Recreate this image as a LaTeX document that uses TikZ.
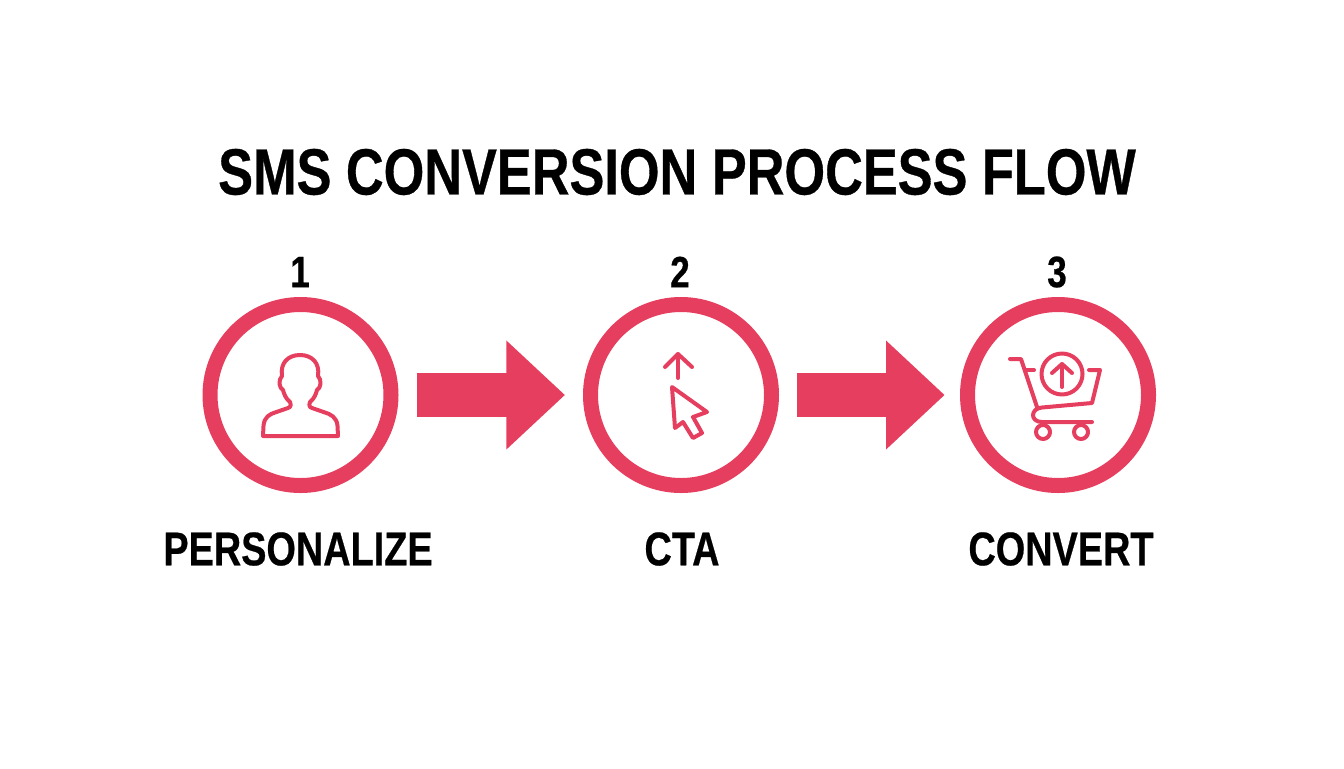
\documentclass[tikz,border=0pt]{standalone}
\usepackage{fontspec}
\setmainfont[FakeStretch=0.8,BoldFeatures={FakeBold=0.5}]{Liberation Sans}
\usetikzlibrary{arrows.meta}
\definecolor{flowred}{HTML}{E63E5E}
\begin{document}
\begin{tikzpicture}[x=0.75pt,y=-0.75pt]
        \useasboundingbox (0,0) rectangle (1344,768);
        \node[font=\bfseries\fontsize{49pt}{49pt}\selectfont,inner sep=0pt] (title) at (677,172) {SMS CONVERSION PROCESS FLOW};
        \begin{scope}[every node/.style={circle,draw=flowred,line width=11.25pt,minimum size=135.75pt,inner sep=0pt}]
            \node (c1) at (300.5,395) {};
            \node (c2) at (681,395) {};
            \node (c3) at (1058,395) {};
        \end{scope}
        \begin{scope}[every node/.style={font=\bfseries\fontsize{33pt}{33pt}\selectfont,inner sep=0pt}]
            \node (n1) at (300,272) {1};
            \node (n2) at (680,272) {2};
            \node (n3) at (1057,272) {3};
        \end{scope}
        \begin{scope}[every node/.style={font=\bfseries\fontsize{35.5pt}{35.5pt}\selectfont,inner sep=0pt}]
            \node (l1) at (298,549) {PERSONALIZE};
            \node (l2) at (682,549) {CTA};
            \node (l3) at (1061,549) {CONVERT};
        \end{scope}
        \begin{scope}[draw=flowred,line width=33pt,-{Triangle[length=44pt,width=79pt]},flowred,shorten <=13.5pt]
            \foreach \a/\b/\s in {1/2/13.5pt,2/3/11.5pt} {\draw[shorten >=\s] (c\a.east)--(c\b.west);}
        \end{scope}
        \begin{scope}[draw=flowred,line width=3pt,line join=round,line cap=round]
            % person
            \draw (263,436)--(263.5,426) .. controls (264,417) and (270,414) .. (275,412.5)--(288,408) .. controls (291,407) and (291,405) .. (290,402)
                .. controls (286,399) and (284,394) .. (283,390) .. controls (279,388) and (278,380) .. (282,376)
                .. controls (280,363) and (288,355) .. (300,355) .. controls (312,355) and (320,363) .. (318,376)
                .. controls (322,380) and (321,388) .. (317,390) .. controls (316,394) and (314,399) .. (310,402)
                .. controls (309,405) and (309,407) .. (312,408)--(325,412.5) .. controls (330,414) and (337,417) .. (337.5,426)--(338,436)--cycle;
            % cursor
            \draw (678,378)--(678,354);
            \draw (665,367)--(678,354)--(692,367);
            \draw (672,387)--(707,412)--(693,417)--(702,433)--(693,438)--(683,422)--(675,428)--cycle;
            % cart
            \draw (1010,359)--(1021,359)--(1037,407);
            \draw (1025,370)--(1034,370);
            \draw (1089,370)--(1100,370)--(1092,403)--(1042,407.5) .. controls (1030,408.5) and (1030,422) .. (1042,422)--(1092,422);
            \draw (1043,432) circle (7);
            \draw (1081,432) circle (7);
            \draw (1062,374) circle (20.5);
            \draw (1062,387)--(1062,364);
            \draw (1052,373)--(1062,364)--(1072,373);
        \end{scope}
    \end{tikzpicture}
\end{document}
